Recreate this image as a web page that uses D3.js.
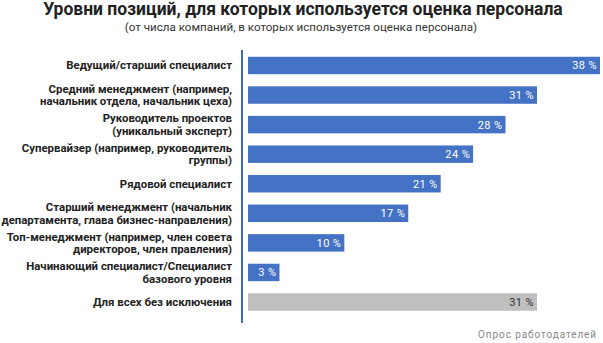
<!DOCTYPE html>
<html><head><meta charset="utf-8">
<script src="https://cdn.jsdelivr.net/npm/d3@7"></script>
<style>body{margin:0;background:#fff}</style>
</head><body>
<svg id="c" width="603" height="343"></svg>
<script>
const categories = [
  ["Ведущий/старший специалист"],
  ["Средний менеджмент (например,", "начальник отдела, начальник цеха)"],
  ["Руководитель проектов", "(уникальный эксперт)"],
  ["Супервайзер (например, руководитель", "группы)"],
  ["Рядовой специалист"],
  ["Старший менеджмент (начальник", "департамента, глава бизнес-направления)"],
  ["Топ-менеджмент (например, член совета", "директоров, член правления)"],
  ["Начинающий специалист/Специалист", "базового уровня"],
  ["Для всех без исключения"]
];
const values = [38, 31.2, 27.8, 24.3, 20.8, 17.3, 10.4, 3.4, 31.2];
const valueLabels = ["38 %", "31 %", "28 %", "24 %", "21 %", "17 %", "10 %", "3 %", "31 %"];
const isTotal = [false, false, false, false, false, false, false, false, true];
const title = "Уровни позиций, для которых используется оценка персонала";
const subtitle = "(от числа компаний, в которых используется оценка персонала)";
const source = "Опрос работодателей";

const svg = d3.select("#c");
const x0 = 248;
const x = d3.scaleLinear().domain([0, 38]).range([x0, 600]);
const y = d3.scaleBand().domain(d3.range(categories.length)).range([50.7, 316.8]).paddingInner(0.41).paddingOuter(0.205);

svg.append("text").attr("x", 303).attr("y", 15).attr("text-anchor", "middle")
  .attr("font-family", "Roboto").attr("font-weight", "bold").attr("font-size", 17.5).attr("fill", "#222")
  .text(title);
svg.append("text").attr("x", 301).attr("y", 31).attr("text-anchor", "middle")
  .attr("font-family", "Roboto").attr("font-size", 11.6).attr("fill", "#333")
  .text(subtitle);

const g = svg.append("g");
g.selectAll("rect").data(values).join("rect")
  .attr("x", x0).attr("y", (d, i) => y(i))
  .attr("width", d => x(d) - x0).attr("height", y.bandwidth())
  .attr("fill", (d, i) => isTotal[i] ? "#bfbfbf" : "#4472c4");

g.selectAll("text.v").data(values).join("text").attr("class", "v")
  .attr("x", d => x(d) - 3).attr("y", (d, i) => y(i) + y.bandwidth() / 2 + 4)
  .attr("text-anchor", "end").attr("font-family", "Roboto").attr("font-size", 11)
  .attr("letter-spacing", 0.4)
  .attr("fill", (d, i) => isTotal[i] ? "#333" : "#fff")
  .text((d, i) => valueLabels[i]);

categories.forEach((lines, i) => {
  const cy = y(i) + y.bandwidth() / 2;
  const t = svg.append("text").attr("text-anchor", "end").attr("font-family", "Roboto")
    .attr("font-weight", "bold").attr("font-size", 11.4).attr("fill", "#222");
  lines.forEach((l, k) => {
    t.append("tspan").attr("x", 232)
      .attr("y", cy + 4 + (k - (lines.length - 1) / 2) * 12.5).text(l);
  });
});

svg.append("line").attr("x1", 242).attr("x2", 242).attr("y1", 50).attr("y2", 323)
  .attr("stroke", "#3f6cb8").attr("stroke-width", 2);

svg.append("text").attr("x", 597).attr("y", 338).attr("text-anchor", "end")
  .attr("font-family", "Roboto").attr("font-size", 10).attr("letter-spacing", 0.9).attr("fill", "#888")
  .text(source);
</script>
</body></html>
